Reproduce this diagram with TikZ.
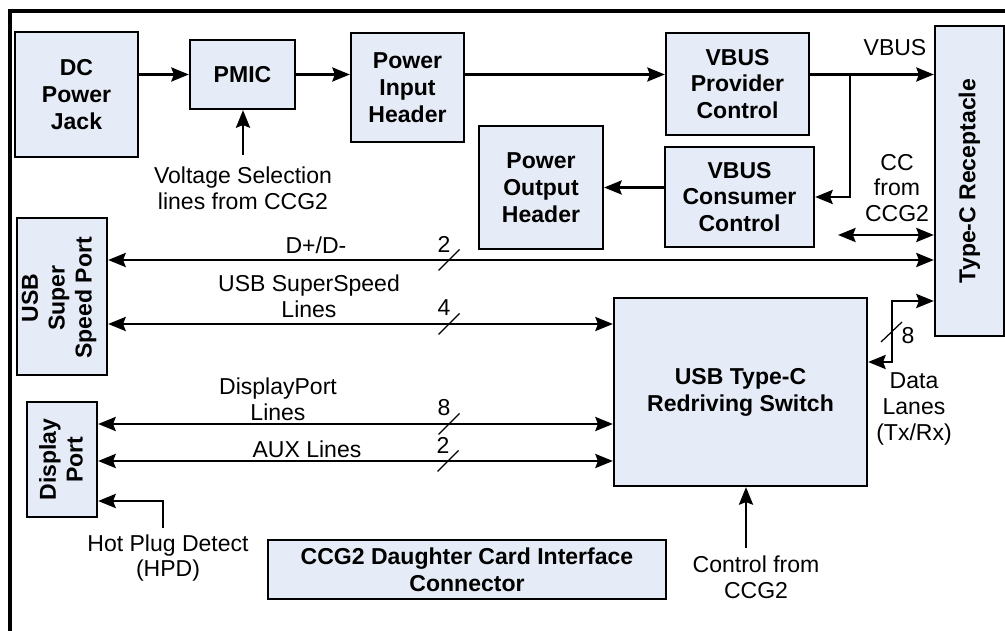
\documentclass[tikz,border=0pt]{standalone}
\usepackage{fontspec}
\setmainfont{Liberation Sans}
\usetikzlibrary{arrows.meta}
\usetikzlibrary{calc}

\definecolor{boxfill}{RGB}{230,236,247}
\newcommand{\lblfont}{\fontsize{13.1}{14.6}\selectfont}
\newcommand{\boxfont}{\fontsize{13.1}{15.3}\selectfont\bfseries}

\tikzset{
  blk/.style={draw, line width=1.3pt, fill=boxfill, inner sep=0pt, align=center, font=\boxfont},
  rtxt/.style={rotate=90, align=center, font=\boxfont},
  txt/.style={align=center, font=\lblfont, inner sep=0pt},
  tip/.tip={Stealth[length=10pt,width=8pt,inset=1.5pt]},
  conn/.style={line width=1.4pt, -tip},
  biconn/.style={line width=1.4pt, tip-tip},
  bus/.style={line width=0.7pt},
  frame/.style={line width=2.4pt}
}

\begin{document}
\begin{tikzpicture}[x=0.02cm, y=-0.02cm]
        \useasboundingbox (0,0) rectangle (1005,631);
        \draw[frame] (1005,11) -- (10,11) -- (10,631);

        \node[blk, minimum width=2.46cm, minimum height=2.5cm] (jack) at (76.5,94.5) {DC\\Power\\Jack};
        \node[blk, minimum width=2.1cm, minimum height=1.38cm] (pmic) at (242.5,74.5) {PMIC};
        \node[blk, minimum width=2.26cm, minimum height=2.18cm] (pinhdr) at (407.5,87.5) {Power\\Input\\Header};
        \node[blk, minimum width=2.86cm, minimum height=2.04cm] (vprov) at (737.5,84) {VBUS\\Provider\\Control};
        \node[blk, minimum width=2.98cm, minimum height=2cm] (vcons) at (739.5,197) {VBUS\\Consumer\\Control};
        \node[blk, minimum width=2.48cm, minimum height=2.46cm] (pouthdr) at (541,187.5) {Power\\Output\\Header};
        \node[blk, minimum width=1.38cm, minimum height=6.2cm] (typec) at (969.5,181) {};
        \node[rtxt] (typectxt) at (typec) {Type-C Receptacle};
        \node[blk, minimum width=1.8cm, minimum height=3.14cm] (ssport) at (62,296.5) {};
        \node[rtxt] (ssporttxt) at (59,298) {USB\\Super\\Speed Port};
        \node[blk, minimum width=1.4cm, minimum height=2.3cm] (dpport) at (62,459.5) {};
        \node[rtxt] (dpporttxt) at (61,459.5) {Display\\Port};
        \node[blk, minimum width=5.06cm, minimum height=3.76cm] (redrv) at (740.5,392) {USB Type-C\\Redriving Switch};
        \node[blk, minimum width=7.96cm, minimum height=1.18cm] (ccg2) at (467,569.5) {CCG2 Daughter Card Interface\\Connector};

        \draw[conn] (jack.east |- pmic.west) -- (pmic.west);
        \draw[conn] (pmic.east) -- (pinhdr.west |- pmic.east);
        \draw[conn] (pinhdr.east |- pmic.east) -- (vprov.west |- pmic.east);
        \draw[conn] (vprov.east |- pmic.east) -- (typec.west |- pmic.east);
        \coordinate (vbr) at (850,74.5);
        \draw[conn] (vbr) |- (vcons.east);
        \draw[conn] (vcons.west |- pouthdr.east) -- (pouthdr.east);
        \coordinate (ccend) at (838,235);
        \draw[biconn] (ccend) -- (typec.west |- ccend);

        \coordinate (vsel) at (243,155);
        \draw[conn] (vsel) -- (vsel |- pmic.south);
        \node[txt] (vsellbl) at (243,188) {Voltage Selection\\lines from CCG2};
        \node[txt] (vbuslbl) at (895,48) {VBUS};
        \node[txt] (cclbl) at (897,188) {CC\\from\\CCG2};

        \coordinate (dline) at (0,260);
        \coordinate (ssline) at (0,324);
        \coordinate (dpline) at (0,424);
        \coordinate (auxline) at (0,461);
        \draw[biconn] (ssport.east |- dline) -- (typec.west |- dline);
        \draw[biconn] (ssport.east |- ssline) -- (redrv.west |- ssline);
        \draw[biconn] (dpport.east |- dpline) -- (redrv.west |- dpline);
        \draw[biconn] (dpport.east |- auxline) -- (redrv.west |- auxline);
        \foreach \x/\y/\n in {449/260/2, 449/324/4, 449/424/8, 448/461/2} {
          \draw[bus] (\x-10.5,\y+10.5) -- ++(21,-21);
          \node[txt] at (\x-5,\y-16) {\n};
        }
        \node[txt] (dlbl) at (316,245) {D+/D-};
        \node[txt] (sslbl) at (309,296) {USB SuperSpeed\\Lines};
        \node[txt] (dplbl) at (278,399) {DisplayPort\\Lines};
        \node[txt] (auxlbl) at (307,449) {AUX Lines};

        \coordinate (hpd) at (163,528);
        \draw[conn] (hpd) |- (dpport.east |- 0,501);
        \node[txt] (hpdlbl) at (168,558) {Hot Plug Detect\\(HPD)};

        \coordinate (ctl) at (746,548);
        \draw[conn] (ctl) -- (ctl |- redrv.south);
        \node[txt] (ctllbl) at (756,577) {Control from\\CCG2};

        \coordinate (lanebend) at (892,301);
        \draw[biconn] (redrv.east |- 0,362) -| (lanebend) -- (typec.west |- lanebend);
        \draw[bus] (881,342) -- (902,322);
        \node[txt] (lanenum) at (908,336) {8};
        \node[txt] (lanelbl) at (914,409) {Data\\Lanes\\(Tx/Rx)};
    \end{tikzpicture}
\end{document}
